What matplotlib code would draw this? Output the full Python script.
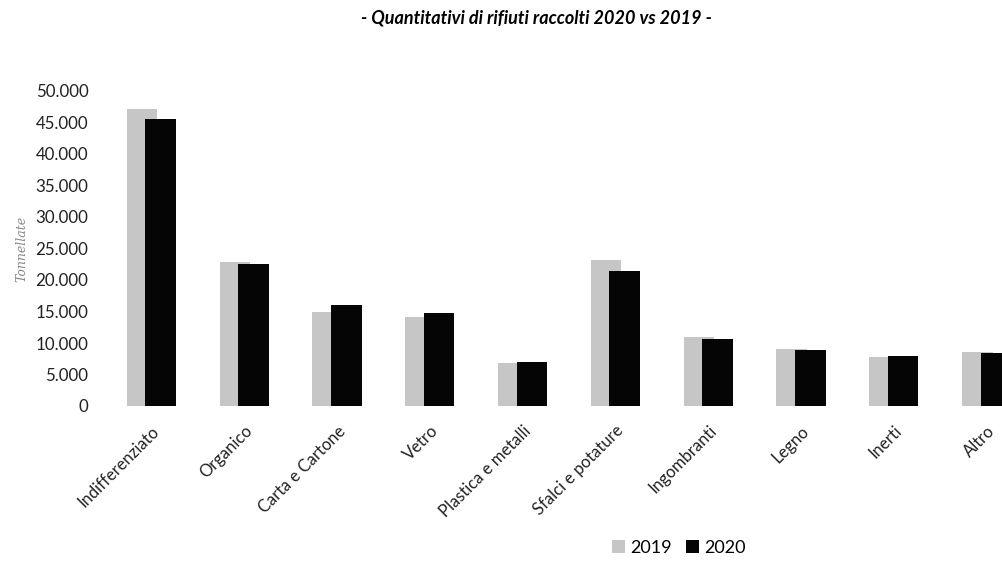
import matplotlib
matplotlib.use("Agg")
import matplotlib.pyplot as plt
import numpy as np

categories = ["Indifferenziato", "Organico", "Carta e Cartone", "Vetro",
              "Plastica e metalli", "Sfalci e potature", "Ingombranti",
              "Legno", "Inerti", "Altro"]
values_2019 = [47100, 22900, 14900, 14200, 6800, 23100, 10900, 9000, 7800, 8600]
values_2020 = [45500, 22500, 16100, 14800, 7000, 21500, 10700, 8900, 7900, 8400]
series_labels = ["2019", "2020"]
yticks = [0, 5000, 10000, 15000, 20000, 25000, 30000, 35000, 40000, 45000, 50000]
ytick_labels = ["0", "5.000", "10.000", "15.000", "20.000", "25.000",
                "30.000", "35.000", "40.000", "45.000", "50.000"]

plt.rcParams['font.family'] = ['Lato', 'DejaVu Sans']

fig = plt.figure(figsize=(10.02, 5.69), dpi=100)
ax = fig.add_axes([105 / 1002, 1 - 406 / 569, 1 - 105 / 1002, (406 - 91) / 569])

x = np.arange(len(categories))
width = 0.33
off = 0.10
ax.bar(x - off, values_2019, width, color="#c6c6c6", label=series_labels[0], zorder=2)
ax.bar(x + off, values_2020, width, color="#050505", label=series_labels[1], zorder=3)

ax.set_xlim(-0.5, (1002 - 105) / 92.8 - 0.5)
ax.set_ylim(0, 50000)
ax.set_yticks(yticks)
ax.set_yticklabels(ytick_labels, fontsize=12.2, color="#222222")
ax.set_xticks(x)
ax.set_xticklabels(categories, rotation=45, ha="right", rotation_mode="anchor",
                   fontsize=12, color="#222222")
ax.tick_params(axis="both", length=0)
ax.tick_params(axis="y", pad=12)
ax.tick_params(axis="x", pad=12)
for s in ax.spines.values():
    s.set_visible(False)

ax.set_ylabel("Tonnellate", fontsize=9, family="DejaVu Serif", style="italic",
              color="#888888")
ax.yaxis.set_label_coords(-77 / 897, 0.5)

fig.text(536 / 1002, 1 - 18 / 569, "- Quantitativi di rifiuti raccolti 2020 vs 2019 -",
         ha="center", va="center", fontsize=13, fontweight="bold", style="italic")

leg = fig.legend(loc="center", bbox_to_anchor=(679 / 1002, 1 - 548 / 569), ncol=2,
                 frameon=False, fontsize=13, handlelength=0.7, handleheight=0.7,
                 handletextpad=0.3, columnspacing=0.8)

fig.savefig("out.png", dpi=100)
